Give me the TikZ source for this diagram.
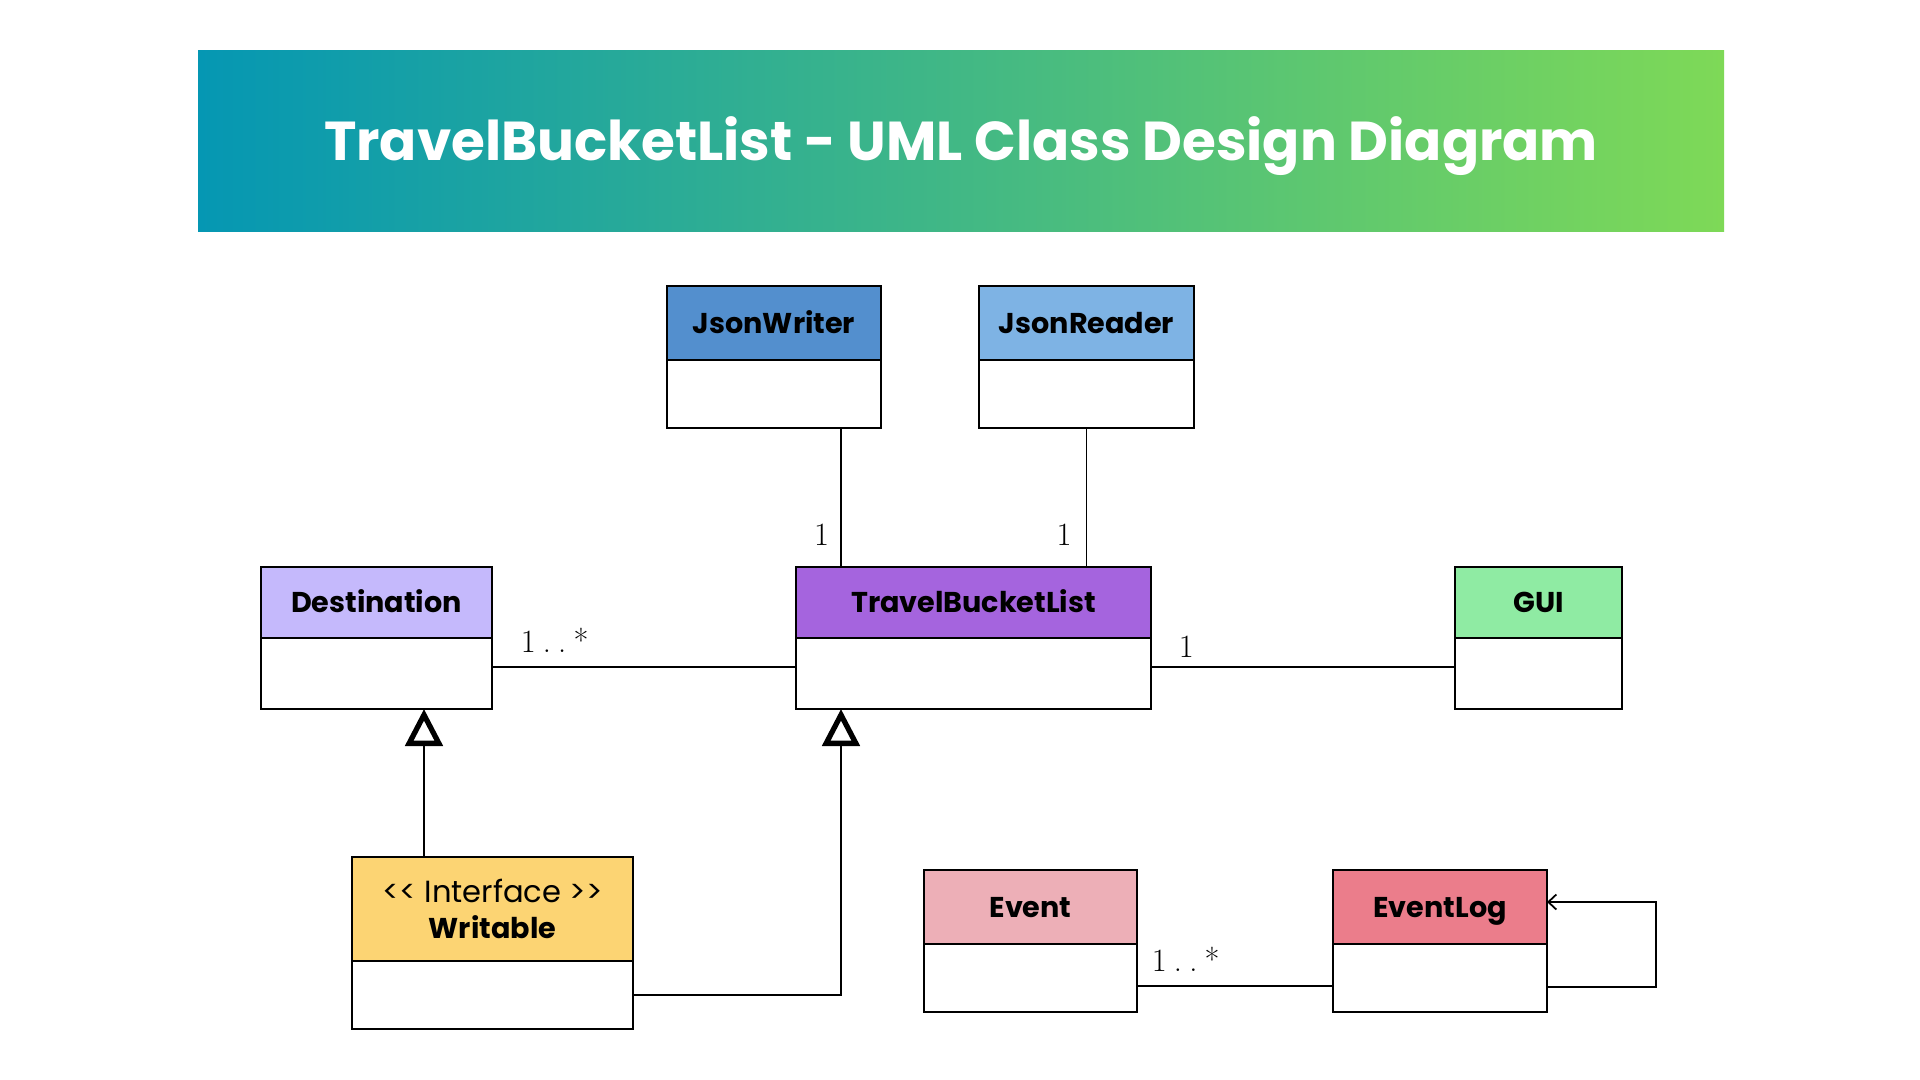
\documentclass[tikz,border=0pt]{standalone}
\usepackage{fontspec}
\usepackage{tikz}
\usetikzlibrary{arrows.meta, positioning, calc}
\newfontfamily\poppins{Poppins}
\definecolor{bannerL}{HTML}{0597B3}
\definecolor{bannerR}{HTML}{7ED957}
\definecolor{jwcol}{HTML}{538FCE}
\definecolor{jrcol}{HTML}{7EB3E4}
\definecolor{destcol}{HTML}{C5B9FC}
\definecolor{tblcol}{HTML}{A564DE}
\definecolor{guicol}{HTML}{8FEBA3}
\definecolor{wrcol}{HTML}{FCD473}
\definecolor{evcol}{HTML}{EDAFB7}
\definecolor{logcol}{HTML}{EB7D8B}

\begin{document}
\begin{tikzpicture}
    \tikzstyle{classbox} = [rectangle, draw=black, line width=1pt, outer sep=0pt, inner sep=0pt]
    \tikzstyle{head} = [classbox, text height=0.4cm, text depth=0pt, font=\poppins\bfseries\fontsize{16.3}{20}\selectfont]
    \tikzstyle{body} = [classbox, fill=white]
    \tikzstyle{line} = [line width=1pt]
    \tikzstyle{gen} = [line width=1pt, -{Triangle[open, length=0.74cm, width=0.74cm, line width=3pt]}]
    \tikzstyle{mult} = [inner sep=0pt, font=\fontsize{18.5}{22}\selectfont]

    \useasboundingbox[fill=white] (0,0) rectangle (38.4,-21.6);

    % title banner
    \node[rectangle, left color=bannerL, right color=bannerR, minimum width=30.52cm, minimum height=3.62cm,
          text=white, text height=0.78cm, text depth=0pt, font=\poppins\bfseries\fontsize{31.2}{36}\selectfont]
          (banner) at (19.22,-2.83) {TravelBucketList - UML Class Design Diagram};

    % classes
    \node[head, fill=jwcol, minimum width=4.28cm, minimum height=1.48cm] (jwriter) at (15.48,-6.46) {JsonWriter};
    \node[body, minimum width=4.28cm, minimum height=1.36cm, below=0pt of jwriter] (jwriterbody) {};

    \node[head, fill=jrcol, minimum width=4.30cm, minimum height=1.48cm] (jreader) at (21.73,-6.46) {JsonReader};
    \node[body, minimum width=4.30cm, minimum height=1.36cm, below=0pt of jreader] (jreaderbody) {};

    \node[head, fill=destcol, minimum width=4.62cm, minimum height=1.42cm] (dest) at (7.53,-12.05) {Destination};
    \node[body, minimum width=4.62cm, minimum height=1.42cm, below=0pt of dest] (destbody) {};

    \node[head, fill=tblcol, minimum width=7.10cm, minimum height=1.42cm] (tbl) at (19.47,-12.05) {TravelBucketList};
    \node[body, minimum width=7.10cm, minimum height=1.42cm, below=0pt of tbl] (tblbody) {};

    \node[head, fill=guicol, minimum width=3.34cm, minimum height=1.42cm] (gui) at (30.77,-12.05) {GUI};
    \node[body, minimum width=3.34cm, minimum height=1.42cm, below=0pt of gui] (guibody) {};

    \node[classbox, fill=wrcol, minimum width=5.62cm, minimum height=2.08cm, align=center,
          font=\poppins\fontsize{16.3}{20.5}\selectfont] (writable) at (9.85,-18.18)
          {{\fontsize{17.4}{20.5}\selectfont <{}< Interface >{}>}\\ \bfseries Writable};
    \node[body, minimum width=5.62cm, minimum height=1.36cm, below=0pt of writable] (writablebody) {};

    \node[head, fill=evcol, minimum width=4.26cm, minimum height=1.48cm] (event) at (20.61,-18.14) {Event};
    \node[body, minimum width=4.26cm, minimum height=1.36cm, below=0pt of event] (eventbody) {};

    \node[head, fill=logcol, minimum width=4.28cm, minimum height=1.48cm] (eventlog) at (28.80,-18.14) {EventLog};
    \node[body, minimum width=4.28cm, minimum height=1.36cm, below=0pt of eventlog] (eventlogbody) {};

    % associations
    \coordinate (jwend) at ($(tbl.north west)+(0.9,0)$);
    \draw[line] (jwend |- jwriterbody.south) -- (jwend)
        node[mult, anchor=south east, xshift=-0.22cm, yshift=0.42cm] {1};
    \draw[line] (jreaderbody.south) -- (jreaderbody.south |- tbl.north)
        node[mult, anchor=south east, xshift=-0.28cm, yshift=0.42cm] {1};
    \draw[line] ([yshift=0.13cm]destbody.east) -- ([yshift=0.13cm]destbody.east -| tblbody.west)
        node[mult, pos=0, anchor=south west, xshift=0.56cm, yshift=0.28cm] {1\kern.22em.\kern.22em.\kern.22em*};
    \draw[line] ([yshift=0.13cm]tblbody.east) -- ([yshift=0.13cm]tblbody.east -| guibody.west)
        node[mult, pos=0, anchor=south west, xshift=0.54cm, yshift=0.17cm] {1};
    \draw[line] ([yshift=-0.16cm]eventbody.east) -- ([yshift=-0.16cm]eventbody.east -| eventlogbody.west)
        node[mult, pos=0, anchor=south west, xshift=0.28cm, yshift=0.27cm] {1\kern.22em.\kern.22em.\kern.22em*};
    \draw[line, -{Straight Barb[length=0.16cm, width=0.3cm]}] ([yshift=-0.18cm]eventlogbody.east) -- ++(2.18,0)
        |- ([yshift=0.1cm]eventlog.east);

    % generalization
    \coordinate (genend) at ($(destbody.south west)+(3.26,0)$);
    \draw[gen] (genend |- writable.north) -- (genend);
    \draw[gen] (writablebody.east) -| (jwend |- tblbody.south);
\end{tikzpicture}
\end{document}
